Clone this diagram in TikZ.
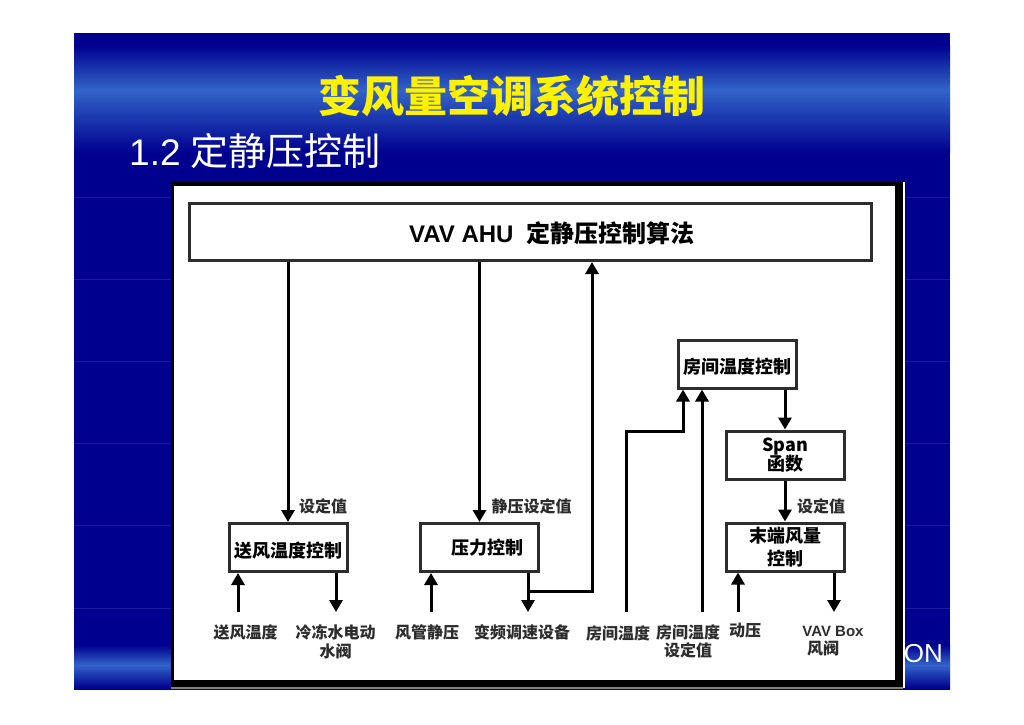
\documentclass[tikz,border=0pt]{standalone}
\usepackage{fontspec}
\setmainfont{Liberation Sans}
\newfontfamily\cjk{Noto Sans CJK SC}
\usetikzlibrary{arrows.meta}
\definecolor{slideblue}{RGB}{0,0,143}
\definecolor{bandblue}{RGB}{50,100,200}
\definecolor{gridblue}{RGB}{25,25,160}
\definecolor{boxgray}{RGB}{45,45,45}
\newcommand{\sz}[1]{\fontsize{#1}{#1}\selectfont}
\tikzset{
  ctrl/.style={draw=boxgray, line width=3pt, fill=white, inner sep=0pt, align=center,
               minimum width=118pt, minimum height=48pt, font=\cjk\bfseries\sz{18}},
  lab/.style={inner sep=0pt, align=center, text=boxgray, font=\cjk\bfseries\sz{16}},
  wire/.style={draw=black, line width=3pt, -{Triangle[width=13pt,length=12pt]}},
}
\begin{document}
\begin{tikzpicture}[x=1pt,y=-1pt]
  \useasboundingbox (0,0) rectangle (1024,724);
  % slide
  \fill [slideblue] (74,33) rectangle (950,690);
  \shade [top color=slideblue, bottom color=bandblue] (74,45) rectangle (950,90);
  \shade [top color=bandblue, bottom color=slideblue] (74,90) rectangle (950,153);
  \shade [top color=slideblue, bottom color=bandblue] (74,645) rectangle (950,665);
  \shade [top color=bandblue, bottom color=slideblue] (74,665) rectangle (950,688);
  \foreach \y in {197,279,361,443,525,608}
    \draw [gridblue, line width=0.7pt] (74,\y) -- (950,\y);
  \node [inner sep=0pt, text=white, anchor=east, font=\sz{26}] (brand) at (943,654) {ON};
  \node [inner sep=0pt, text=yellow, font=\cjk\bfseries\sz{43}] (title) at (512,96) {变风量空调系统控制};
  \node [inner sep=0pt, text=white, anchor=west, font=\sz{37}] (sub) at (129,151) {1.2 {\cjk\sz{38}定静压控制}};
  % panel
  \fill [white] (171,182) rectangle (905,688);
  \fill [gray] (171,686) rectangle (903,689);
  \fill [black] (171,182) rectangle (903,687);
  \fill [white] (174,186) rectangle (895,680);
  % boxes
  \node [ctrl, minimum width=682pt, minimum height=57pt, font=\sz{24}\bfseries] (algo) at (530.5,232)
        {\hspace*{43pt}\raisebox{-10pt}[0pt][0pt]{VAV AHU\ \ {\cjk\sz{24}定静压控制算法}}};
  \node [ctrl] (room) at (737,364) {\raisebox{-9pt}[0pt][0pt]{房间温度控制}};
  \node [ctrl] (span) at (785,455) {\sz{18}Span\\[-1pt]函数};
  \node [ctrl] (supply) at (288,547.5) {\raisebox{-10pt}[0pt][0pt]{送风温度控制}};
  \node [ctrl] (press) at (479.5,547.5) {\hspace*{15pt}压力控制};
  \node [ctrl] (term) at (785,547) {末端风量\\[5pt]控制};
  % labels
  \node [lab] (lsp1) at (323,506) {设定值};
  \node [lab] (lsp2) at (531.5,506) {静压设定值};
  \node [lab] (lsp3) at (821,506) {设定值};
  \node [lab] (l1) at (245.5,632) {送风温度};
  \node [lab] (l2) at (335.5,642) {冷冻水电动\\[3pt]水阀};
  \node [lab] (l3) at (427,632) {风管静压};
  \node [lab] (l4) at (522,632) {变频调速设备};
  \node [lab] (l5) at (618,633) {房间温度};
  \node [lab] (l6) at (688,641) {房间温度\\[2pt]设定值};
  \node [lab] (l7) at (745,631) {动压};
  \node [lab, font=\bfseries\sz{15}] (l8) at (833,631) {VAV Box};
  \node [lab] (l9) at (823,648) {风阀};
  % free ends and corners
  \coordinate (c1) at (238,612);
  \coordinate (c2) at (336,612);
  \coordinate (c3) at (431,612);
  \coordinate (c4) at (528,612);
  \coordinate (c5) at (626,612);
  \coordinate (c6) at (702,612);
  \coordinate (c7) at (738,612);
  \coordinate (c8) at (834,612);
  \coordinate (turn) at (528,591);
  % connectors
  \draw [wire] (algo.south -| supply) -- (supply.north);
  \draw [wire] (algo.south -| press) -- (press.north);
  \draw [wire] (turn) -| (algo.south -| 592,0);
  \draw [wire] (room.south -| span) -- (span.north);
  \draw [wire] (span) -- (term);
  \draw [wire] (c1) -- (supply.south -| c1);
  \draw [wire] (supply.south -| c2) -- (c2);
  \draw [wire] (c3) -- (press.south -| c3);
  \draw [wire] (press.south -| c4) -- (c4);
  \draw [wire] (c5) |- (683,431) -- (room.south -| 683,0);
  \draw [wire] (c6) -- (room.south -| c6);
  \draw [wire] (c7) -- (term.south -| c7);
  \draw [wire] (term.south -| c8) -- (c8);
\end{tikzpicture}
\end{document}
